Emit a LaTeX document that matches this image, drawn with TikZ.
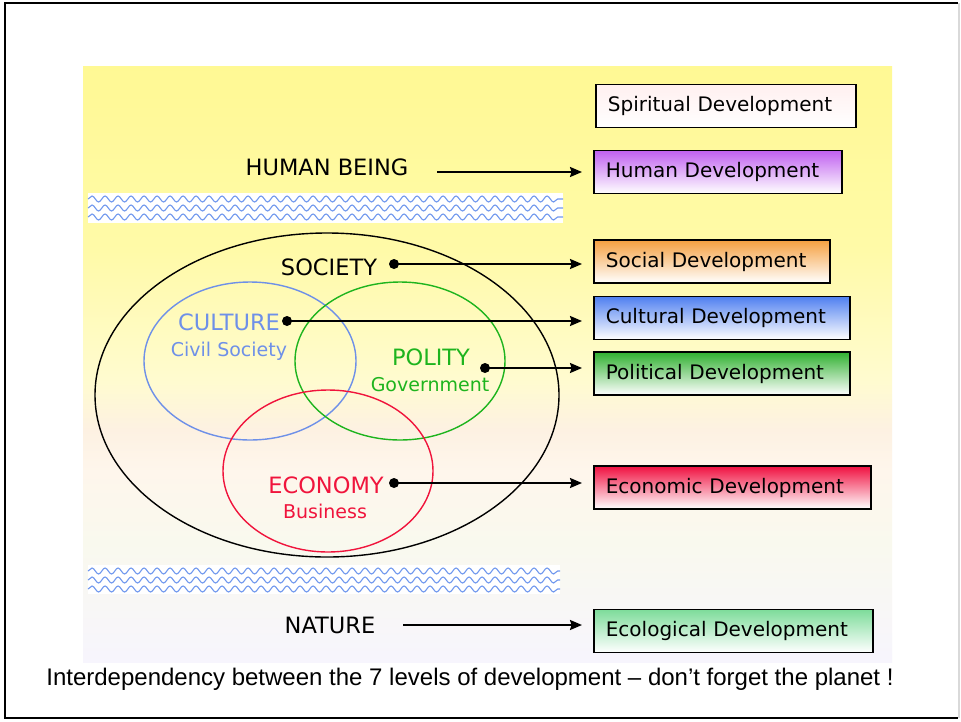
\documentclass[tikz,border=0pt]{standalone}
\usepackage{fontspec}
\setmainfont{Liberation Sans}
\newfontfamily\labelfont{DejaVu Sans}
\usepackage{xcolor}
\usepackage{tikz}
\usetikzlibrary{arrows.meta,shapes.geometric,decorations.pathmorphing}

\definecolor{bgyellow}{HTML}{FFF994}
\definecolor{bgyellowb}{HTML}{FFFAA8}
\definecolor{bglight}{HTML}{FFFBD0}
\definecolor{bgpink}{HTML}{FDF1E2}
\definecolor{bgpeach}{HTML}{FEF6EC}
\definecolor{bgcream}{HTML}{F9F9EE}
\definecolor{bglav}{HTML}{F7F5FD}
\definecolor{wavecol}{HTML}{7098EE}
\definecolor{culcol}{HTML}{6E90E8}
\definecolor{polcol}{HTML}{1EB41E}
\definecolor{ecocol}{HTML}{F0143C}
\definecolor{humcol}{HTML}{C060F0}
\definecolor{soccol}{HTML}{F5A040}
\definecolor{cltcol}{HTML}{5080F0}
\definecolor{plccol}{HTML}{30B030}
\definecolor{ecncol}{HTML}{F01040}
\definecolor{ecgcol}{HTML}{7EDC9A}

\pgfdeclareverticalshading{bgshade}{100bp}{color(0bp)=(bglav); color(25bp)=(bglav); color(35bp)=(bgcream); color(41bp)=(bgpeach); color(44.5bp)=(bgpink); color(48.5bp)=(bglight); color(59.5bp)=(bgyellowb); color(75bp)=(bgyellow); color(100bp)=(bgyellow)}

\begin{document}
\begin{tikzpicture}[x=1pt,y=-1pt,>={Stealth[length=12pt,width=10pt,inset=1.5pt]},
  devbox/.style={draw, line width=1.7pt, anchor=west, minimum height=43pt,
    inner xsep=12pt, text width=#1pt, align=left,
    font=\labelfont\fontsize{20}{23}\selectfont},
  lab/.style={font=\labelfont\fontsize{22.5}{25}\selectfont},
  sublab/.style={font=\labelfont\fontsize{19}{22}\selectfont},
  ring/.style={ellipse, draw, line width=1.4pt, inner sep=0pt},
  dot/.style={circle, fill, inner sep=0pt, minimum size=10pt},
  wave/.style={wavecol, line width=1.1pt, decorate,
    decoration={snake, segment length=13pt, amplitude=3pt}},
  link/.style={->, line width=2pt, shorten >=11pt}]
\useasboundingbox (0,0) rectangle (961,721);
\fill[white] (0,0) rectangle (961,721);
\draw[line width=2pt] (958,3) -- (5,3) -- (5,718) -- (958,718);
\draw[black!15, line width=1.5pt] (959,3) -- (959,718);

% background
\shade[shading=bgshade] (83,66) rectangle (892,662);

% water bands
\fill[white] (88,193) rectangle (563,223);
\fill[white] (88,565) rectangle (560,594);
\foreach \y in {199,208,217} \draw[wave] (88,\y) -- (563,\y);
\foreach \y in {571,580,589} \draw[wave] (88,\y) -- (560,\y);

% circles
\node[ring, minimum width=464pt, minimum height=324pt] (society) at (327,395) {};
\node[ring, culcol, minimum width=212pt, minimum height=158pt] (culture) at (250,361) {};
\node[ring, polcol, minimum width=210pt, minimum height=158pt] (polity) at (400,361) {};
\node[ring, ecocol, minimum width=210pt, minimum height=162pt] (economy) at (328,471) {};

% labels
\node[lab] (hb) at (327,167) {HUMAN BEING};
\node[lab] (soclab) at (329,267) {SOCIETY};
\node[lab, culcol] (cullab) at (229,322) {CULTURE};
\node[sublab, culcol] (civlab) at (229,351) {Civil Society};
\node[lab, polcol] (pollab) at (431,357) {POLITY};
\node[sublab, polcol] (govlab) at (430,385) {Government};
\node[lab, ecocol] (ecolab) at (326,485) {ECONOMY};
\node[sublab, ecocol] (buslab) at (325,511) {Business};
\node[lab] (natlab) at (330,625) {NATURE};

% development boxes
\node[devbox=236, top color=red!6!white, bottom color=white] (spiritual) at (595,106) {Spiritual Development};
\node[devbox=224, top color=humcol, middle color=humcol!35!white, bottom color=white] (human) at (593,172) {Human Development};
\node[devbox=212, top color=soccol, middle color=soccol!35!white, bottom color=white] (social) at (593,261.5) {Social Development};
\node[devbox=232, top color=cltcol, middle color=cltcol!35!white, bottom color=white] (cultural) at (593,318) {Cultural Development};
\node[devbox=232, top color=plccol, middle color=plccol!35!white, bottom color=white] (political) at (593,373.5) {Political Development};
\node[devbox=253, top color=ecncol, middle color=ecncol!35!white, bottom color=white] (economic) at (593,487.5) {Economic Development};
\node[devbox=255, top color=ecgcol, middle color=ecgcol!45!white, bottom color=white] (ecological) at (593,631) {Ecological Development};

% dots
\node[dot] (socdot) at (394,264) {};
\node[dot] (culdot) at (287,321) {};
\node[dot] (poldot) at (485,368) {};
\node[dot] (ecodot) at (394,483) {};
\coordinate (hbstart) at (437,172);
\coordinate (natstart) at (403,625);

% arrows
\draw[link] (hbstart) -- (hbstart -| human.west);
\draw[link] (socdot.center) -- (socdot -| social.west);
\draw[link] (culdot.center) -- (culdot -| cultural.west);
\draw[link] (poldot.center) -- (poldot -| political.west);
\draw[link] (ecodot.center) -- (ecodot -| economic.west);
\draw[link] (natstart) -- (natstart -| ecological.west);

\node[font=\fontsize{24}{27}\selectfont] (caption) at (470,679) {Interdependency between the 7 levels of development – don’t forget the planet !};
\end{tikzpicture}
\end{document}
